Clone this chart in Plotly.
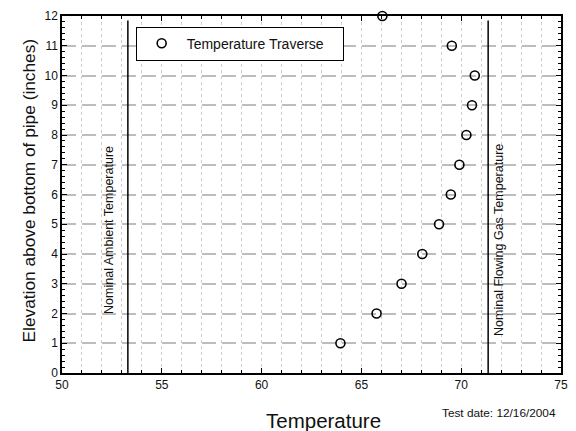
import plotly.graph_objects as go

# Data
temperature = [63.95, 65.76, 67.01, 68.05, 68.89, 69.48, 69.91, 70.26, 70.54, 70.68, 69.53, 66.05]
elevation = [1, 2, 3, 4, 5, 6, 7, 8, 9, 10, 11, 12]
ambient_temp = 53.3
gas_temp = 71.35
ref_line_y = [0, 11.85]
series_name = "Temperature Traverse"
ambient_label = "Nominal Ambient Temperature"
gas_label = "Nominal Flowing Gas Temperature"
x_title = "Temperature"
y_title = "Elevation above bottom of pipe (inches)"
date_note = "Test date: 12/16/2004"

FONT = "Liberation Sans, Arial, sans-serif"
L, R, T, B = 62, 8, 16, 58
W, H = 576, 431
pw, ph = W - L - R, H - T - B


def px_x(p):
    return (p - L) / pw


def px_y(p):
    return (H - B - p) / ph


fig = go.Figure()

fig.add_trace(go.Scatter(
    x=[ambient_temp, ambient_temp], y=ref_line_y, mode="lines",
    line=dict(color="black", width=1.5), showlegend=False, hoverinfo="skip"))
fig.add_trace(go.Scatter(
    x=[gas_temp, gas_temp], y=ref_line_y, mode="lines",
    line=dict(color="black", width=1.5), showlegend=False, hoverinfo="skip"))

fig.add_trace(go.Scatter(
    x=temperature, y=elevation, mode="markers", name=series_name,
    marker=dict(symbol="circle-open", size=9, color="black", line=dict(width=1.6, color="black")),
    cliponaxis=False))

fig.update_layout(
    width=W, height=H,
    margin=dict(l=L, r=R, t=T, b=B),
    paper_bgcolor="white", plot_bgcolor="white",
    font=dict(family=FONT, color="#111"),
    showlegend=True,
    legend=dict(
        x=px_x(136.7), y=px_y(26.7), xanchor="left", yanchor="top",
        orientation="h", entrywidth=151, entrywidthmode="pixels", itemwidth=40,
        bordercolor="black", borderwidth=1, bgcolor="white",
        font=dict(family=FONT, size=14, color="#111"),
    ),
    xaxis=dict(
        range=[50, 75], dtick=5, tick0=50,
        showline=True, linecolor="black", linewidth=1.5, mirror="ticks",
        ticks="inside", ticklen=5, tickwidth=1, tickcolor="black",
        showgrid=True, gridcolor="#cccccc", griddash="dot", gridwidth=1,
        zeroline=False,
        tickfont=dict(family=FONT, size=12, color="#111"),
        minor=dict(dtick=1, ticks="inside", ticklen=3, tickcolor="black",
                   showgrid=True, gridcolor="#cccccc", griddash="dot", gridwidth=1),
    ),
    yaxis=dict(
        range=[0, 12], dtick=1, tick0=0,
        showline=True, linecolor="black", linewidth=1.5, mirror="ticks",
        ticks="inside", ticklen=5, tickwidth=1, tickcolor="black",
        showgrid=True, gridcolor="#bdbdbd", griddash="14px,6px", gridwidth=1.5,
        zeroline=False,
        tickfont=dict(family=FONT, size=12, color="#111"),
        minor=dict(dtick=0.2, ticks="inside", ticklen=3, tickcolor="black", showgrid=False),
    ),
    annotations=[
        dict(text=ambient_label, x=52.34, y=4.8, xref="x", yref="y", textangle=-90,
             xanchor="center", yanchor="middle",
             showarrow=False, font=dict(family=FONT, size=12.5, color="#111")),
        dict(text=gas_label, x=71.89, y=4.47, xref="x", yref="y", textangle=-90,
             xanchor="center", yanchor="middle",
             showarrow=False, font=dict(family=FONT, size=12.5, color="#111")),
        dict(text=x_title, x=px_x(327.5), y=px_y(420), xref="paper", yref="paper",
             xanchor="center", yanchor="middle",
             showarrow=False, font=dict(family=FONT, size=20.5, color="#111")),
        dict(text=y_title, x=px_x(29), y=px_y(190),
             xref="paper", yref="paper", textangle=-90, xanchor="center", yanchor="middle",
             showarrow=False, font=dict(family=FONT, size=17.3, color="#111")),
        dict(text=date_note, x=px_x(445), y=px_y(412.5), xref="paper", yref="paper",
             xanchor="left", yanchor="middle",
             showarrow=False, font=dict(family=FONT, size=11.8, color="#111")),
    ],
)

fig.write_html("out.html")
